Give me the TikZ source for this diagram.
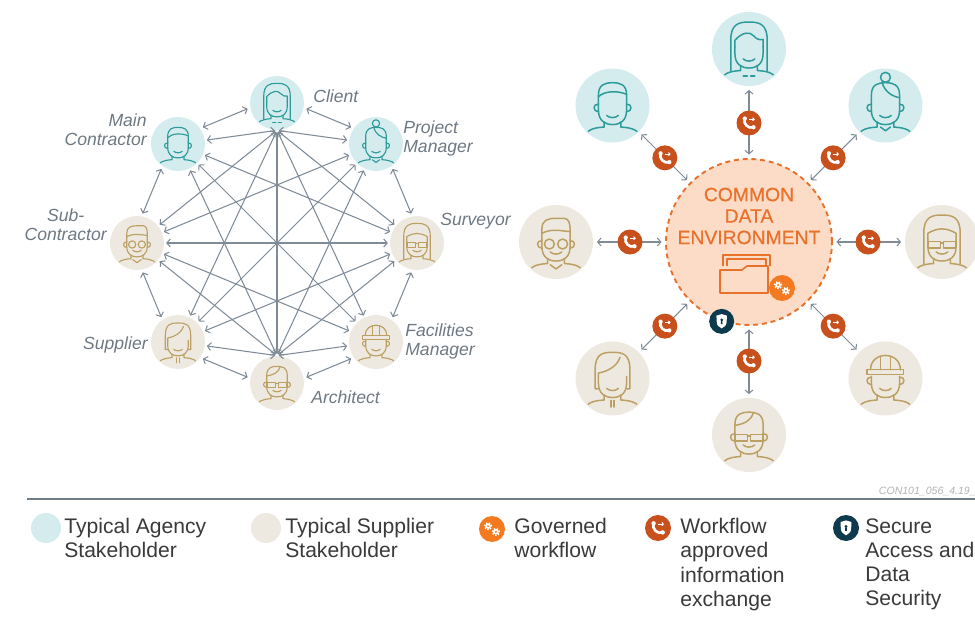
\documentclass[tikz,border=0pt]{standalone}
\usepackage{fontspec}
\setmainfont{Liberation Sans}
\newfontfamily\cdefont[FakeBold=0.6]{Liberation Sans}
\usetikzlibrary{arrows.meta}

% colours
\definecolor{linkgray}{HTML}{7F8B97}
\definecolor{labelgray}{HTML}{6E7882}
\definecolor{agencyfill}{HTML}{D4ECED}
\definecolor{agencyline}{HTML}{2E9B9B}
\definecolor{supplierfill}{HTML}{EEE9E0}
\definecolor{supplierline}{HTML}{BCA063}
\definecolor{cdefill}{HTML}{FDDCC7}
\definecolor{cdeorange}{HTML}{E8722C}
\definecolor{flowred}{HTML}{C8501D}
\definecolor{gearorange}{HTML}{F37A21}
\definecolor{securenavy}{HTML}{0E3A4D}
\definecolor{rulegray}{HTML}{6F7C87}
\definecolor{keytext}{HTML}{3A3A3A}

% pieces of the people icons, drawn in a unit disc
\newcommand\avatarframe[1]{%
  \clip (0,0) circle (0.97);
  \begin{scope}[shift={(0,-0.1)}, scale=1.12] #1 \end{scope}%
}
\newcommand\avatarface{%
  % shoulders and neck
  \draw (-0.72,-0.78) .. controls (-0.66,-0.5) and (-0.5,-0.45) .. (-0.2,-0.43) -- (-0.2,-0.31);
  \draw (0.72,-0.78) .. controls (0.66,-0.5) and (0.5,-0.45) .. (0.2,-0.43) -- (0.2,-0.31);
  % jaw
  \draw (-0.34,0.14) -- (-0.34,-0.02) .. controls (-0.34,-0.28) and (-0.18,-0.37) .. (0,-0.37)
    .. controls (0.18,-0.37) and (0.34,-0.28) .. (0.34,-0.02) -- (0.34,0.14);
  % smile
  \draw (-0.14,-0.15) .. controls (-0.07,-0.22) and (0.07,-0.22) .. (0.14,-0.15);
}
\newcommand\avatarears{%
  \draw (-0.34,0.12) .. controls (-0.48,0.14) and (-0.48,-0.06) .. (-0.34,-0.06);
  \draw (0.34,0.12) .. controls (0.48,0.14) and (0.48,-0.06) .. (0.34,-0.06);
}
\newcommand\avatarcrown{%
  \draw (-0.34,0.14) -- (-0.34,0.34) .. controls (-0.34,0.6) and (-0.18,0.64) .. (0,0.64)
    .. controls (0.18,0.64) and (0.34,0.6) .. (0.34,0.34) -- (0.34,0.14);
}
\newcommand\avatarlonghair{%
  \draw (-0.44,-0.44) -- (-0.44,0.3) .. controls (-0.44,0.7) and (-0.24,0.74) .. (0,0.74)
    .. controls (0.24,0.74) and (0.44,0.7) .. (0.44,0.3) -- (0.44,-0.44);
}
\newcommand\avatarspecs{%
  \draw (-0.32,0.1) rectangle (-0.04,-0.05);
  \draw (0.04,0.1) rectangle (0.32,-0.05);
  \draw (-0.04,0.06) -- (0.04,0.06);
}

\tikzset{
  % stakeholder discs
  agency/.style={circle, fill=agencyfill, inner sep=0pt},
  supplier/.style={circle, fill=supplierfill, inner sep=0pt},
  smalldisc/.style={minimum size=1.08cm},
  bigdisc/.style={minimum size=1.48cm},
  ink/.style={color=#1line, line cap=round, line join=round},
  link/.style={draw=linkgray, line width=0.6pt, <->, shorten <=1pt, shorten >=1pt},
  lbl/.style={text=labelgray, inner sep=0pt, font=\fontsize{10}{10.8}\selectfont\itshape},
  cde/.style={circle, fill=cdefill, draw=cdeorange, line width=1.1pt,
    dash pattern=on 2.8pt off 2.2pt, minimum size=3.32cm, inner sep=0pt},
  keytxt/.style={anchor=north west, inner sep=0pt, align=left, text=keytext,
    font=\fontsize{12}{13.8}\selectfont},
  % the eight stakeholders
  pics/client/.style={code={\avatarframe{
    \avatarface \avatarlonghair
    \draw (-0.34,0.14) -- (-0.34,0.3) .. controls (-0.16,0.5) and (0.02,0.52) .. (0.12,0.4)
      .. controls (0.18,0.32) and (0.28,0.3) .. (0.34,0.32) -- (0.34,0.14);
    \draw (-0.14,-0.56) -- (-0.04,-0.56) (0.04,-0.56) -- (0.14,-0.56);
  }}},
  pics/projman/.style={code={\avatarframe{
    \avatarface \avatarears \avatarcrown
    \draw (0,0.77) circle (0.12);
    \draw (-0.08,0.64) .. controls (-0.02,0.42) and (0.18,0.3) .. (0.34,0.28);
    \draw (-0.12,-0.43) -- (0,-0.52) -- (0.12,-0.43);
  }}},
  pics/maincon/.style={code={\avatarframe{
    \avatarface \avatarears \avatarcrown
    \draw (-0.34,0.3) .. controls (-0.2,0.44) and (0.1,0.46) .. (0.34,0.36);
  }}},
  pics/surveyor/.style={code={\avatarframe{
    \avatarface \avatarspecs \avatarlonghair
    \draw (-0.34,0.14) -- (-0.34,0.3) .. controls (-0.1,0.44) and (0.1,0.44) .. (0.34,0.3) -- (0.34,0.14);
  }}},
  pics/facman/.style={code={\avatarframe{
    \avatarface \avatarears
    \draw (-0.44,0.18) rectangle (0.44,0.3);
    \draw (-0.36,0.3) .. controls (-0.36,0.76) and (0.36,0.76) .. (0.36,0.3);
    \draw (-0.12,0.3) -- (-0.12,0.62) (0.12,0.3) -- (0.12,0.62);
  }}},
  pics/architect/.style={code={\avatarframe{
    \avatarface \avatarears \avatarcrown \avatarspecs
    \draw (-0.34,0.32) .. controls (-0.1,0.36) and (0.05,0.44) .. (0.1,0.62);
  }}},
  pics/supplier/.style={code={\avatarframe{
    \avatarface
    \draw (-0.34,-0.16) -- (-0.42,-0.16) -- (-0.42,0.3) .. controls (-0.42,0.7) and (-0.22,0.72) .. (0,0.72)
      .. controls (0.22,0.72) and (0.42,0.7) .. (0.42,0.3) -- (0.42,-0.16) -- (0.34,-0.16);
    \draw (-0.34,0.14) -- (-0.34,0.22) .. controls (-0.1,0.26) and (0.12,0.4) .. (0.18,0.6);
    \draw (-0.04,-0.44) -- (-0.04,-0.6) (0.04,-0.44) -- (0.04,-0.6);
  }}},
  pics/subcon/.style={code={\avatarframe{
    \avatarface \avatarears
    \draw (-0.16,0.04) circle (0.12) (0.16,0.04) circle (0.12);
    \draw (-0.34,0.14) -- (-0.34,0.4) .. controls (-0.34,0.62) and (-0.2,0.66) .. (0,0.66) -- (0.2,0.66)
      .. controls (0.32,0.66) and (0.34,0.5) .. (0.34,0.4) -- (0.34,0.14);
    \draw (-0.34,0.3) .. controls (-0.1,0.42) and (0.1,0.36) .. (0.34,0.34);
    \draw (-0.14,-0.46) -- (0,-0.56) -- (0.14,-0.46);
  }}},
  % badges
  pics/workflow/.style={code={
    \fill[flowred] (0,0) circle (1);
    \draw[white, line width=1.5pt, line cap=round] (-0.34,0.36) .. controls (-0.5,-0.05) and (-0.05,-0.5) .. (0.36,-0.34);
    \fill[white] (-0.34,0.36) circle (0.17) (0.36,-0.34) circle (0.17);
    \draw[white, line width=0.6pt, -{Straight Barb[length=0.8pt,width=1.8pt]}] (0.02,0.3) -- (0.46,0.3);
  }},
  pics/governed/.style={code={
    \fill[gearorange] (0,0) circle (1);
    \foreach \gx/\gy in {-0.3/0.22, 0.3/-0.22} {
      \draw[white, line width=1pt, dash pattern=on 0.8pt off 0.8pt] (\gx,\gy) circle (0.25);
      \fill[white] (\gx,\gy) circle (0.21);
      \fill[gearorange] (\gx,\gy) circle (0.08);
    }
  }},
  pics/secure/.style={code={
    \fill[securenavy] (0,0) circle (1);
    \fill[white] (0,0.58) .. controls (0.2,0.48) .. (0.42,0.46) -- (0.4,0.0)
      .. controls (0.36,-0.32) .. (0,-0.56) .. controls (-0.36,-0.32) .. (-0.4,0.0)
      -- (-0.42,0.46) .. controls (-0.2,0.48) .. (0,0.58) -- cycle;
    \fill[securenavy] (0,0.12) circle (0.12);
    \fill[securenavy] (-0.05,0.12) -- (0.05,0.12) -- (0.07,-0.22) -- (-0.07,-0.22) -- cycle;
  }},
}

\begin{document}
\begin{tikzpicture}[x=0.02cm, y=0.02cm, line join=round,
    >={Straight Barb[length=2pt,width=4.5pt]}]
  \useasboundingbox (0,0) rectangle (975,-622);

  % ---- everybody talks to everybody ----
  \begin{scope}[shift={(277,-243)}]
    \foreach \n/\a/\kind in {client/90/agency, projman/45/agency, surveyor/0/supplier,
        facman/-45/supplier, architect/-90/supplier, supplier/-135/supplier,
        subcon/180/supplier, maincon/135/agency}
    {
      \node[\kind, smalldisc] (\n) at (\a:140) {};
      \pic[ink=\kind, line width=0.65pt, scale=27] at (\n) {\n};
    }
  \end{scope}

  % neighbours round the ring
  \foreach \p/\q/\a [evaluate=\a as \s using int(\a-100), evaluate=\a as \t using int(\a+55)]
      in {client/projman/90, projman/surveyor/45, surveyor/facman/0, facman/architect/-45,
          architect/supplier/-90, supplier/subcon/-135, subcon/maincon/-180, maincon/client/-225}
    \draw[link, shorten <=1.5pt, shorten >=1.5pt] (\p.\s) -- (\q.\t);

  % across the ring
  \foreach \q in {projman, surveyor, facman, architect, supplier, subcon, maincon}
    \draw[link] (client.south) -- (\q);
  \foreach \q in {projman, surveyor, facman, supplier, subcon, maincon}
    \draw[link] (architect.north) -- (\q);
  \foreach \p/\q in {projman/supplier, projman/subcon, surveyor/supplier, surveyor/subcon,
      surveyor/maincon, facman/subcon, facman/maincon}
    \draw[link] (\p) -- (\q);

  % names
  \node[lbl, anchor=west] (tclient) at (313,-96) {Client};
  \node[lbl, anchor=west, align=left] (tprojman) at (403,-138) {Project\\Manager};
  \node[lbl, anchor=west] (tsurveyor) at (440,-221) {Surveyor};
  \node[lbl, anchor=west, align=left] (tfacman) at (405,-341) {Facilities\\Manager};
  \node[lbl, anchor=west] (tarchitect) at (311,-397) {Architect};
  \node[lbl, anchor=east] (tsupplier) at (148,-345) {Supplier};
  \node[lbl, anchor=east, align=center] (tsubcon) at (107,-225) {Sub-\\Contractor};
  \node[lbl, anchor=east, align=right] (tmaincon) at (147,-130) {Main\\Contractor};

  % ---- common data environment ----
  \begin{scope}[shift={(749,-242)}]
    \node[cde] (cde) at (0,0) {};
    \node[text=cdeorange, align=center, inner sep=0pt,
      font=\cdefont\fontsize{11}{12.2}\selectfont] (cdetitle) at (0,26) {COMMON\\DATA\\ENVIRONMENT};

    \foreach \n/\a/\kind in {client/90/agency, projman/45/agency, surveyor/0/supplier,
        facman/-45/supplier, architect/-90/supplier, supplier/-135/supplier,
        subcon/180/supplier, maincon/135/agency}
    {
      \node[\kind, bigdisc] (c\n) at (\a:193) {};
      \pic[ink=\kind, line width=0.85pt, scale=37] at (c\n) {\n};
      \draw[link, shorten <=2pt, shorten >=2pt] (cde) -- (c\n);
      \pic[scale=12.5] at (\a:119) {workflow};
    }

    % folder
    \draw[cdeorange, line width=0.9pt] (-26,-24) -- (-26,-13) -- (21,-13) -- (21,-24);
    \draw[cdeorange, line width=0.9pt] (-22,-24) -- (-22,-17) -- (17,-17) -- (17,-24);
    \filldraw[fill=cdefill, draw=cdeorange, line width=0.9pt]
      (-29,-28) -- (-7,-28) -- (-2,-24) -- (19,-24) -- (19,-51) -- (-29,-51) -- cycle;
    \pic[scale=13] at (33,-46) {governed};
    \pic[scale=12.5] at (cde.-109) {secure};
  \end{scope}

  % ---- key ----
  \draw[rulegray, line width=1.1pt] (27,-499) -- (975,-499);
  \node[anchor=base east, inner sep=0pt, text=black!30,
    font=\fontsize{6}{7}\selectfont\itshape] (tag) at (976,-494) {CON101\_056\_4.19\_};

  \node[agency, minimum size=0.6cm] (keyagency) at (46,-528) {};
  \node[keytxt] (tkeyagency) at (64,-518) {Typical Agency\\Stakeholder};
  \node[supplier, minimum size=0.6cm] (keysupplier) at (266,-528) {};
  \node[keytxt] (tkeysupplier) at (285,-518) {Typical Supplier\\Stakeholder};
  \pic[scale=13] at (492,-529) {governed};
  \node[keytxt] (tkeygoverned) at (514,-518) {Governed\\workflow};
  \pic[scale=13] at (658,-528) {workflow};
  \node[keytxt] (tkeyworkflow) at (680,-518) {Workflow\\approved\\information\\exchange};
  \pic[scale=13] at (846,-528) {secure};
  \node[keytxt] (tkeysecure) at (865,-518) {Secure\\Access and\\Data\\Security};
\end{tikzpicture}
\end{document}
